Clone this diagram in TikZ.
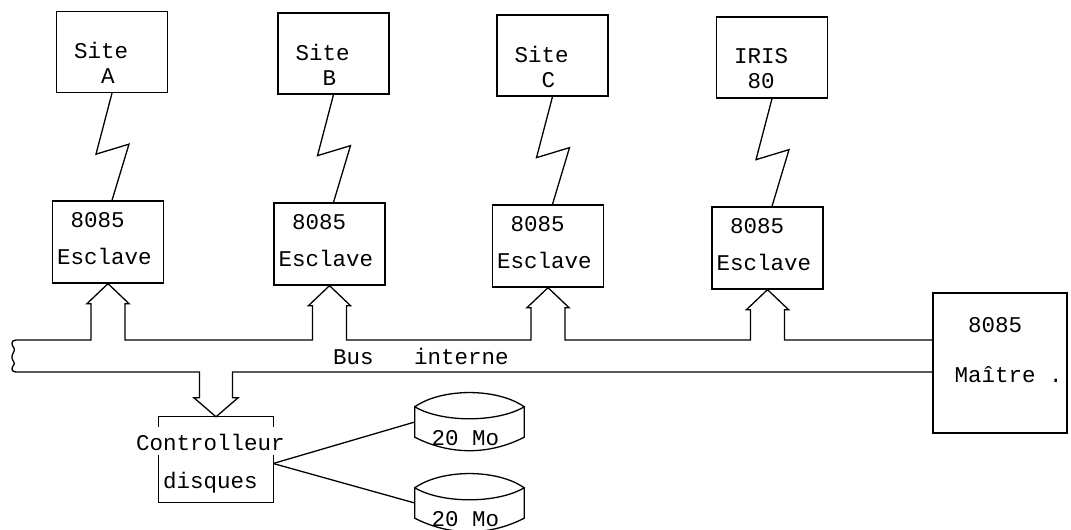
\documentclass[tikz,border=0pt]{standalone}
\usepackage{fontspec}
\newfontfamily\typ{Liberation Mono}
\begin{document}
\begin{tikzpicture}[x=1pt,y=-1pt,
  ln/.style={line width=1.3pt, line join=miter},
  box/.style={draw, line width=1.3pt, minimum width=111pt, inner sep=0pt},
  sitebox/.style={box, minimum height=81pt},
  escbox/.style={box, minimum height=82pt},
  lbl/.style={inner sep=0pt, align=left},
  sitelbl/.style={lbl, font=\typ\fontsize{22.5}{25}\selectfont, anchor=west},
  esclbl/.style={lbl, font=\typ\fontsize{22.5}{37}\selectfont, anchor=west},
  mlbl/.style={lbl, font=\typ\fontsize{22.5}{50}\selectfont, anchor=west},
  clbl/.style={lbl, font=\typ\fontsize{22.5}{38}\selectfont, anchor=west},
  plainlbl/.style={lbl, font=\typ\fontsize{22.5}{27}\selectfont},
  busup/.style={insert path={-- (#1L |- bt) -- (#1L) -- (#1LW) -- (#1.south) -- (#1RW) -- (#1R) -- (#1R |- bt)}}
]
\path[use as bounding box, fill=white] (0,0) rectangle (1071,530);

% top boxes
\node[sitebox] (siteA) at (112,52) {};
\node[sitebox] (siteB) at (333.5,53.5) {};
\node[sitebox] (siteC) at (552.5,55.5) {};
\node[sitebox] (siteD) at (772,57.5) {};
\node[sitelbl] (siteAt) at ([xshift=18pt,yshift=-11pt]siteA.west) {Site\\~~A};
\node[sitelbl] (siteBt) at ([xshift=18pt,yshift=-11pt]siteB.west) {Site\\~~B};
\node[sitelbl] (siteCt) at ([xshift=18pt,yshift=-11pt]siteC.west) {Site\\~~C};
\node[sitelbl] (siteDt) at ([xshift=18pt,yshift=-11pt]siteD.west) {IRIS\\~80};

% slave boxes
\node[escbox] (escA) at (108,242) {};
\node[escbox] (escB) at (329.5,244) {};
\node[escbox] (escC) at (548,246) {};
\node[escbox] (escD) at (767.5,248) {};
\foreach \n in {escA,escB,escC,escD}{
  \node[esclbl] (\n t) at ([xshift=5pt,yshift=3pt]\n.west) {~8085\\Esclave};
}

% zigzag links
\foreach \s/\e in {siteA/escA,siteB/escB,siteC/escC,siteD/escD}{
  \draw[ln] (\s.south) -- ++(-16,61) -- ++(33,-10) -- (\s.south |- \e.north);
}

% master
\node[draw, line width=1.3pt, minimum width=134pt, minimum height=140pt, inner sep=0pt] (maitre) at (1000,363) {};
\node[mlbl] (maitret) at ([xshift=22pt,yshift=13pt]maitre.west) {~8085\\Maître .};

% controller
\node[minimum width=114pt, minimum height=85pt, inner sep=0pt] (ctrl) at (216,459.5) {};
\draw[ln] ([yshift=-10pt]ctrl.north west) -- (ctrl.north west) -- (ctrl.north east) -- ([yshift=-10pt]ctrl.north east);
\draw[ln] ([yshift=47pt]ctrl.south west) -- (ctrl.south west) -- (ctrl.south east) -- ([yshift=47pt]ctrl.south east);
\node[clbl] (ctrlt) at ([xshift=-23pt,yshift=-4.5pt]ctrl.west) {Controlleur\\~~disques};

% disks
\node[minimum width=109pt, minimum height=30pt, inner sep=0pt] (disk1) at (469.5,422) {};
\node[minimum width=109pt, minimum height=30pt, inner sep=0pt] (disk2) at (469.5,503) {};
\foreach \d in {disk1,disk2}{
  \draw[ln] (\d.north west) .. controls +(27,-19) and +(-27,-19) .. (\d.north east)
            .. controls +(-27,16) and +(27,16) .. (\d.north west)
            -- (\d.south west) .. controls +(35,18) and +(-35,18) .. (\d.south east)
            -- (\d.north east);
  \node[plainlbl] (\d t) at ([xshift=-4pt,yshift=-16pt]\d.center) {20 Mo};
}
\draw[ln] ([yshift=-4pt]ctrl.east) -- (disk1.west);
\draw[ln] ([yshift=-4pt]ctrl.east) -- (disk2.west);

% bus
\coordinate (bt) at (16,340);
\coordinate (bb) at (16,372);
\foreach \n in {escA,escB,escC,escD}{
  \coordinate (\n L) at ([xshift=-17pt,yshift=-20pt]\n.south);
  \coordinate (\n LW) at ([xshift=-21pt,yshift=-20pt]\n.south);
  \coordinate (\n RW) at ([xshift=21pt,yshift=-20pt]\n.south);
  \coordinate (\n R) at ([xshift=17pt,yshift=-20pt]\n.south);
}
\coordinate (ctrlL) at ([xshift=-16.5pt,yshift=19pt]ctrl.north);
\coordinate (ctrlLW) at ([xshift=-22pt,yshift=19pt]ctrl.north);
\coordinate (ctrlRW) at ([xshift=22pt,yshift=19pt]ctrl.north);
\coordinate (ctrlR) at ([xshift=16.5pt,yshift=19pt]ctrl.north);

\draw[ln] (bt) [busup=escA] [busup=escB] [busup=escC] [busup=escD] -- (maitre.west |- bt);
\draw[ln] (bb) -- (ctrlL |- bb) -- (ctrlL) -- (ctrlLW) -- (ctrl.north) -- (ctrlRW) -- (ctrlR) -- (ctrlR |- bb) -- (maitre.west |- bb);
\draw[ln] (bt) .. controls (11,340) and (11,345) .. (14,348)
          .. controls (16,351) and (11,354) .. (12,358)
          .. controls (13,362) and (16,363) .. (13,366)
          .. controls (11,369) and (12,372) .. (bb);
\node[plainlbl] (buslbl) at (421,356) {Bus~~~interne};
\end{tikzpicture}
\end{document}
